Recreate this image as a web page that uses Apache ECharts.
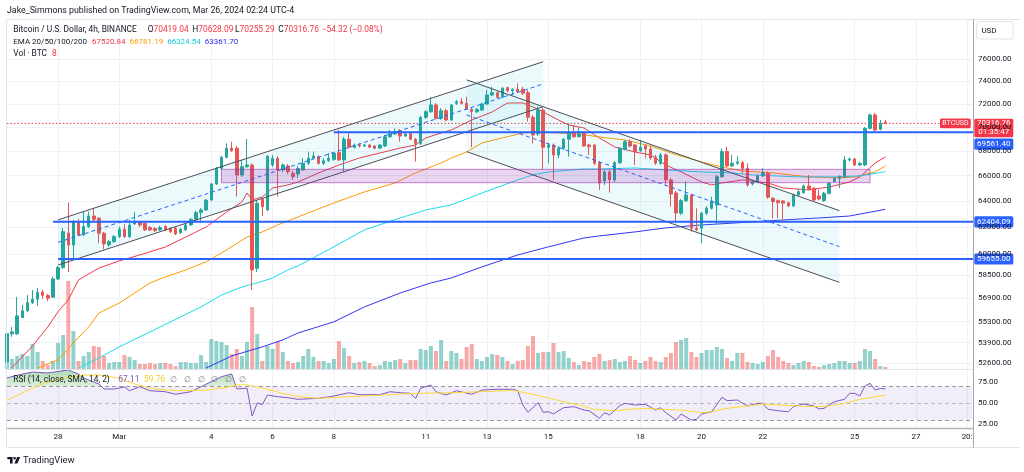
<!DOCTYPE html>
<html>
<head>
<meta charset="utf-8">
<script src="https://cdn.jsdelivr.net/npm/echarts@6/dist/echarts.min.js"></script>
<style>
  html, body { margin: 0; padding: 0; background: #fff; }
  #chart { width: 1024px; height: 472px; }
</style>
</head>
<body>
<div id="chart"></div>
<script>
// 4h slots, Feb 26 08:00 .. Mar 28 (UTC-4); candles fill the first 173
const slotCount = 190;
const tickLabels = [[10, '28'], [22, 'Mar'], [40, '4'], [52, '6'], [64, '8'], [82, '11'], [94, '13'],
  [106, '15'], [124, '18'], [136, '20'], [148, '22'], [166, '25'], [178, '27'], [188, '20:']];
const priceTicks = [76000, 74000, 72000, 70000, 68000, 66000, 64000, 62000, 60000, 58500, 56900, 55300, 53900, 52600];
const rsiTicks = [75, 50, 25];

// [open, close, low, high]
const candles = [
  [52660,54480,52530,54680],[54480,54610,54280,54940],[54480,55680,54410,56980],[55570,56020,55540,56430],
  [56020,56580,55950,57110],[56580,56820,56490,57460],[56820,57300,56360,57600],[57300,57070,56840,57460],
  [57070,56890,56700,57180],[56960,58230,56910,58400],[58230,59040,58160,59160],[59040,61670,58940,61950],
  [61570,60680,58730,63880],[60680,62420,59730,62550],[62420,61420,61350,62630],[61420,62050,61350,63160],
  [62050,62850,61950,63180],[62850,62600,62470,63460],[62680,61550,60810,62780],[61550,60760,60370,61650],
  [60680,60930,60540,61050],[60930,61300,60830,61420],[61300,61850,61200,62050],[61850,61300,61200,62250],
  [61300,62170,61200,62550],[62250,62420,62170,63140],[62370,62170,62020,62470],[62300,61800,61720,62400],
  [61970,61800,61720,62100],[61900,61740,61650,62020],[61800,61970,61720,62100],[62050,61800,61720,62170],
  [61900,61670,61570,61990],[61920,61500,61420,62020],[61600,61850,61500,61950],[61800,62170,61720,62250],
  [62170,62600,62100,62700],[62600,63110,62550,63240],[63110,63310,62320,63470],[63310,64080,63240,64160],
  [64080,65340,64010,65420],[65340,66590,65260,66700],[66590,67490,66460,67600],[67490,68230,67390,68640],
  [68230,68030,67930,68770],[68230,66060,64340,68420],[66060,66720,65900,67270],[66720,66860,66620,69000],
  [66860,58870,57460,66990],[58990,63830,58730,64080],[64140,63570,62850,64240],[63310,67560,63240,67680],
  [66860,67410,66700,67680],[67410,66460,64340,67600],[66460,66860,66300,66990],[66780,66320,66140,66940],
  [66190,65920,65660,66380],[66140,66580,65820,66780],[66460,67000,66380,67430],[67000,67410,66860,67950],
  [67410,67600,67350,67950],[67540,67000,66900,67640],[67000,67210,66860,67430],[67210,67410,67110,67840],
  [67320,67820,67190,67930],[67870,67270,67190,69780],[67270,68980,66320,69170],[68980,68310,68210,69480],
  [68310,68500,68210,68630],[68500,68420,68290,68670],[68420,68500,68340,68590],[68500,68310,68250,68590],
  [68420,68230,68130,68500],[68250,68500,68170,68590],[68420,69190,68340,69340],[69190,69420,69090,69760],
  [69420,69610,69340,69900],[69700,69250,68780,69840],[69250,69420,69170,69590],[69470,68980,68920,69590],
  [68980,68640,67130,69090],[68640,70840,68500,70950],[70840,71320,70700,71470],[71320,71910,71210,72580],
  [71910,70750,70650,72080],[70750,71410,70610,71640],[71410,70610,70520,71560],[70610,71910,70520,71990],
  [72050,72200,71910,72340],[72200,72050,71950,72520],[72050,71530,71470,72640],[71530,71320,68310,71640],
  [71320,71530,71210,71640],[71470,71990,71380,72120],[71990,72780,71910,73220],[72780,72990,72690,73520],
  [72990,72580,72480,73090],[72580,73380,72520,73490],[73430,73160,73030,73540],[73160,73290,72780,73380],
  [73290,73070,72940,73820],[73290,72940,72780,73520],[72990,70840,70470,73220],[70840,69340,68640,71040],
  [69420,71470,69250,71760],[71470,68310,66510,71640],[68310,68500,67000,68670],[68500,67680,65660,68630],
  [67680,68230,67410,68420],[68230,68980,68090,69090],[68980,69530,67540,70330],[69530,69190,69090,70180],
  [69190,69420,69130,69980],[69470,68420,68340,69590],[68500,68360,67680,68590],[68500,67000,66860,68590],
  [67050,65420,64870,67190],[65580,66300,65260,66460],[66300,65660,64660,66460],[65660,67050,65500,67190],
  [67050,68230,66940,68340],[68150,68770,68050,68920],[68770,68420,68290,68960],[68500,67950,66860,68590],
  [68030,68310,67930,68920],[68420,68170,67410,68540],[68170,67430,67270,68420],[67510,67000,66860,67680],
  [67000,67680,66860,67840],[67680,65660,65180,67840],[65660,64550,63570,65820],[64630,63080,62300,64790],
  [63060,64030,62930,64160],[64030,64470,63930,65530],[64470,61920,61670,64550],[61920,61800,61720,63440],
  [61920,63060,60810,63160],[63060,63440,62930,63620],[63440,64010,63350,64340],[63700,65920,62170,66060],
  [65920,67960,65820,68200],[67960,66780,66700,68360],[66780,67000,66700,67680],[67000,67110,66860,67600],
  [67050,66590,66190,67190],[66590,65260,65130,67000],[65340,65530,65220,65660],[65530,65980,65420,66100],
  [65980,66240,65900,66590],[66190,64300,64160,66340],[64220,63950,62680,64320],[64030,63870,62680,64120],
  [64010,63830,62350,64080],[63870,63620,63540,63950],[63620,64470,63540,64590],[64470,64730,64400,64910],
  [64650,65180,64590,65300],[65180,64920,64830,66060],[65000,64080,64010,65100],[64400,64160,64050,64870],
  [64030,64610,63930,64710],[64610,65390,64510,65500],[65530,65790,65460,65900],[65790,65920,65000,66020],
  [65920,67270,65820,67600],[67270,67350,67150,67470],[67350,66860,66780,67430],[66860,66980,66780,67110],
  [66860,69900,66780,70010],[69900,71040,69800,71170],[71040,69760,69620,71210],[69820,70320,69720,70610],
  [70419.04,70316.76,70255.29,70628.09]
];

// volume, BTC
const volumes = [
  40,40,52,60,52,100,68,32,16,32,104,136,352,152,32,52,68,92,88,52,24,28,28,56,48,36,20,20,
  24,20,24,24,20,12,28,28,24,24,56,28,120,112,108,96,
  60,80,52,108,248,140,32,92,80,112,68,32,24,28,
  52,80,48,32,32,24,40,112,84,52,24,28,32,24,12,16,32,28,36,40,24,36,36,80,76,92,72,116,32,
  72,64,40,88,100,40,32,48,60,56,48,32,20,32,36,92,132,64,68,68,104,68,72,44,28,16,32,28,48,60,
  32,36,40,28,32,52,36,24,32,48,32,28,48,64,108,116,124,68,48,64,76,76,88,80,44,32,64,64,28,
  24,20,28,52,76,48,32,24,16,24,32,28,12,8,16,20,24,32,32,24,24,32,80,72,40,12,8
];

// EMA lines, [slot, price]
const ema20 = [[1,52300],[5,53690],[8,54940],[10,55970],[12,56770],[14,58160],[18,59010],[22,59520],[26,59950],
  [31,60530],[35,61270],[39,62020],[43,63160],[46,63930],[47,64630],[48,64080],[50,64320],[52,65020],[55,65260],
  [57,65500],[61,66220],[65,66860],[69,67430],[73,67840],[77,68250],[80,68500],[82,69090],[85,69500],[87,69760],
  [91,70610],[95,71300],[98,72080],[101,72080],[103,71730],[105,71300],[108,70610],[110,70180],[113,69930],
  [116,69090],[119,68340],[123,67920],[126,67680],[129,66860],[132,66300],[134,65900],[136,65500],[138,65260],
  [140,65420],[144,65660],[149,65420],[152,65020],[157,64870],[161,65100],[165,65500],[167,65900],[170,67020],
  [172,67520.84]];
const ema50 = [[6,52270],[10,52790],[13,53890],[16,54940],[18,55880],[22,56560],[25,57250],[28,57950],[31,58370],
  [35,58870],[39,59450],[43,60320],[47,61270],[50,61650],[53,62170],[57,62780],[64,63850],[70,64710],[76,65420],
  [80,66220],[85,67020],[87,67430],[90,67920],[93,68670],[97,69090],[101,69500],[104,69590],[108,69500],
  [112,69420],[116,69170],[121,68920],[126,68420],[130,67840],[136,67100],[140,66700],[144,66380],[150,66220],
  [157,65900],[163,65820],[166,65900],[170,66300],[172,66781.19]];
const ema100 = [[14,52270],[18,52910],[22,53630],[26,54280],[30,54940],[34,55610],[38,56290],[42,57110],
  [46,57670],[49,57950],[52,58300],[55,58870],[57,59160],[64,60540],[70,61800],[77,62700],[82,63310],[87,63700],
  [93,64630],[100,65660],[103,66060],[106,66300],[113,66540],[116,66540],[123,66620],[129,66460],[136,66300],
  [142,66220],[146,66060],[155,65900],[162,65900],[167,65980],[172,66324.54]];
const ema200 = [[39,52270],[44,53040],[50,53630],[54,54080],[57,54540],[64,55280],[70,56290],[77,57250],
  [83,57950],[87,58300],[93,59090],[100,59950],[106,60540],[113,61200],[116,61350],[123,61650],[129,61950],
  [136,62170],[146,62400],[152,62550],[159,62700],[165,62850],[172,63361.70]];

// RSI(14) and its SMA(14), [slot, value]
const rsiLine = [[0,80],[3,84.7],[5,87],[8,85.9],[12,89.4],[14,84.7],[15,80],[18,72.8],[19,66.9],[21,66.9],
  [23,69.3],[24,64.9],[26,69.6],[28,64.9],[31,63.7],[33,60.7],[36,63.7],[38,69.6],[40,75.6],[42,81.5],[44,84.7],
  [45,67],[47,67.8],[48,35],[49,50.4],[50,48.5],[51,59.8],[53,57.8],[55,56.6],[57,54.7],[61,55.9],[64,58.6],
  [67,62.5],[69,60.2],[71,60.2],[73,60.2],[75,63.7],[77,62.5],[79,61.8],[80,55.9],[81,67.8],[83,71.7],[84,63.7],
  [86,59.8],[88,64.9],[91,60.7],[93,65.7],[96,66.6],[99,66.6],[100,64.9],[101,48],[102,39.3],[104,50.7],
  [105,39.3],[106,40],[107,37.3],[109,44.8],[111,46],[113,42],[114,41.2],[116,32.2],[117,38.9],[118,36.2],
  [120,47.2],[121,50],[123,48],[125,48.8],[127,42.1],[128,44.8],[129,38.9],[131,30.2],[132,37.3],[134,30.2],
  [135,31],[136,37.3],[138,40],[140,57.1],[141,53.1],[143,53.9],[145,46.8],[147,50],[148,50],[149,42.9],
  [151,41.2],[153,40],[154,46],[156,49.2],[158,46.8],[159,43.3],[160,44.1],[162,51.9],[164,54.7],[165,61.8],
  [166,61.8],[167,58.6],[168,70.5],[169,73.7],[170,65.7],[171,67.5],[172,67.11]];
const rsiSma = [[0,53.9],[5,67.8],[8,75.6],[12,80.8],[15,83.5],[18,83.5],[22,79.6],[25,72.8],[28,67.8],
  [31,65.7],[35,64.9],[39,65.7],[43,68.9],[46,72.8],[48,70.5],[51,66.6],[54,61.8],[57,57.8],[61,55.9],[67,57.8],
  [74,59.8],[80,61.8],[87,62.5],[93,63.7],[99,65.4],[102,61.8],[105,57.8],[109,51.9],[112,48],[115,42.9],
  [119,41.2],[122,42.9],[125,44.1],[128,42.9],[132,42.1],[136,38.9],[138,40],[141,44.1],[145,46.8],[148,49.2],
  [151,48],[154,47.2],[158,46],[161,46.8],[164,50],[167,54.7],[172,59.76]];

// drawings: [fromSlot, toSlot, upper0, upper1, lower0, lower1, mid0, mid1]
const channels = [
  [10, 104.6, 62554, 75780, 59220, 71757, 60870, 73760],
  [89.5, 163, 74130, 63260, 67950, 57990, 71040, 60560]
];
const zone = [[41.6, 168.9, 66510, 65440]];
const levels = [[64.4, 69561.40], [9.1, 62404.09], [10.06, 59655.00]];
const lastPrice = 70316.76;

const FONT = 'Roboto, "Noto Sans", sans-serif';
const ink = '#131722';
const red = '#f23645';
const up = '#26a69a', down = '#ef5350';
const slots = Array.from({ length: slotCount }, (_, i) => i);
const tickAt = new Map(tickLabels);

function xAxisFor(gridIndex, withLabels) {
  return {
    type: 'category', gridIndex, data: slots, boundaryGap: false,
    axisLine: { show: false }, axisTick: { show: false },
    axisLabel: withLabels
      ? { show: true, interval: (i) => tickAt.has(i), formatter: (v, i) => tickAt.get(i) || '', color: ink, fontSize: 8, margin: 5, fontFamily: FONT }
      : { show: false },
    splitLine: { show: gridIndex !== 1, interval: (i) => tickAt.has(i), lineStyle: { color: '#eef1f6', width: 1 } }
  };
}

const emaLine = (name, data, color) => ({
  name, type: 'line', xAxisIndex: 0, yAxisIndex: 0, data, showSymbol: false, silent: true, z: 2,
  lineStyle: { color, width: 1 }
});

const chart = echarts.init(document.getElementById('chart'));

chart.setOption({
  animation: false,
  textStyle: { fontFamily: FONT },
  grid: [
    { left: 7, right: 51.8, top: 20, height: 349, outerBoundsMode: 'none' },
    { left: 7, right: 51.8, top: 20, height: 349, outerBoundsMode: 'none' },
    { left: 7, right: 51.8, top: 369.5, height: 58.5, outerBoundsMode: 'none' }
  ],
  xAxis: [xAxisFor(0, false), xAxisFor(1, false), xAxisFor(2, true)],
  yAxis: [
    { type: 'log', logBase: 10, gridIndex: 0, min: 52207, max: 79712, show: false },
    { type: 'value', gridIndex: 1, min: 0, max: 1396, show: false },
    { type: 'value', gridIndex: 2, min: 20.77, max: 90, show: false }
  ],
  series: [
    {
      name: 'BTCUSD', type: 'candlestick', xAxisIndex: 0, yAxisIndex: 0, data: candles, z: 3,
      barWidth: 3,
      itemStyle: { color: up, color0: down, borderColor: up, borderColor0: down, borderWidth: 1 }
    },
    {
      name: 'Vol', type: 'bar', xAxisIndex: 1, yAxisIndex: 1, barWidth: 4, z: 1, silent: true,
      data: volumes.map((v, i) => ({
        value: v,
        itemStyle: { color: candles[i] && candles[i][1] >= candles[i][0] ? 'rgba(38,166,154,0.5)' : 'rgba(239,83,80,0.5)' }
      }))
    },
    emaLine('EMA 20', ema20, '#f23645'),
    emaLine('EMA 50', ema50, '#ff9800'),
    emaLine('EMA 100', ema100, '#18dcec'),
    emaLine('EMA 200', ema200, '#3434f2'),
    {
      type: 'custom', xAxisIndex: 0, yAxisIndex: 0, data: channels, z: 4, silent: true,
      encode: { x: [0, 1], y: [2, 3, 4, 5, 6, 7] },
      renderItem: (params, api) => {
        const v = (k) => api.value(k);
        const a = api.coord([v(0), v(2)]), b = api.coord([v(1), v(3)]);
        const c = api.coord([v(1), v(5)]), d = api.coord([v(0), v(4)]);
        const m0 = api.coord([v(0), v(6)]), m1 = api.coord([v(1), v(7)]);
        return {
          type: 'group', children: [
            { type: 'polygon', shape: { points: [a, b, c, d] }, style: { fill: 'rgba(0,188,212,0.07)' } },
            { type: 'line', shape: { x1: a[0], y1: a[1], x2: b[0], y2: b[1] }, style: { stroke: '#4a4d57', lineWidth: 1 } },
            { type: 'line', shape: { x1: d[0], y1: d[1], x2: c[0], y2: c[1] }, style: { stroke: '#4a4d57', lineWidth: 1 } },
            { type: 'line', shape: { x1: m0[0], y1: m0[1], x2: m1[0], y2: m1[1] }, style: { stroke: '#2962ff', lineWidth: 1, lineDash: [4, 3] } }
          ]
        };
      }
    },
    {
      type: 'custom', xAxisIndex: 0, yAxisIndex: 0, data: zone, z: 4, silent: true,
      encode: { x: [0, 1], y: [2, 3] },
      renderItem: (params, api) => {
        const p0 = api.coord([api.value(0), api.value(2)]);
        const p1 = api.coord([api.value(1), api.value(3)]);
        return {
          type: 'rect', shape: { x: p0[0], y: p0[1], width: p1[0] - p0[0], height: p1[1] - p0[1] },
          style: { fill: 'rgba(156,39,176,0.2)', stroke: 'rgba(156,39,176,0.55)', lineWidth: 1 }
        };
      }
    },
    {
      type: 'custom', xAxisIndex: 0, yAxisIndex: 0, data: levels, z: 5, silent: true,
      encode: { x: 0, y: 1 },
      renderItem: (params, api) => {
        const s = api.coord([api.value(0), api.value(1)]);
        const right = params.coordSys.x + params.coordSys.width + 1.5;
        return { type: 'line', shape: { x1: s[0], y1: s[1], x2: right, y2: s[1] }, style: { stroke: '#2962ff', lineWidth: 2 } };
      }
    },
    {
      // last-price line across the whole pane
      type: 'custom', xAxisIndex: 0, yAxisIndex: 0, data: [[0, lastPrice]], z: 2, silent: true,
      encode: { x: 0, y: 1 },
      renderItem: (params, api) => {
        const s = api.coord([api.value(0), api.value(1)]);
        const x2 = params.coordSys.x + params.coordSys.width;
        return { type: 'line', shape: { x1: params.coordSys.x, y1: s[1], x2, y2: s[1] }, style: { stroke: '#f23645', lineWidth: 1, lineDash: [1.5, 2] } };
      }
    },
    {
      type: 'line', xAxisIndex: 0, yAxisIndex: 0, data: [], z: 0, silent: true,
      markLine: {
        silent: true, z: 0, symbol: ['none', 'none'], label: { show: false },
        lineStyle: { color: '#eef1f6', width: 1, type: 'solid' },
        data: priceTicks.map((v) => ({ yAxis: v }))
      }
    },
    {
      id: 'rsiFill', type: 'line', xAxisIndex: 2, yAxisIndex: 2, data: rsiLine, showSymbol: false, silent: true, z: 2,
      lineStyle: { width: 0, opacity: 0 },
      areaStyle: { origin: 'start', opacity: 1, color: 'rgba(0,0,0,0)' }
    },
    {
      name: 'RSI', type: 'line', xAxisIndex: 2, yAxisIndex: 2, data: rsiLine, showSymbol: false, silent: true, z: 3,
      lineStyle: { color: '#7e57c2', width: 1 },
      markArea: { silent: true, z: 0, itemStyle: { color: 'rgba(126,87,194,0.1)' }, data: [[{ yAxis: 30 }, { yAxis: 70 }]] },
      markLine: {
        silent: true, z: 1, symbol: ['none', 'none'], label: { show: false },
        lineStyle: { color: '#9598a1', type: [4, 3], width: 1 },
        data: [{ yAxis: 70 }, { yAxis: 50, lineStyle: { color: 'rgba(149,152,161,0.6)' } }, { yAxis: 30 }]
      }
    },
    {
      name: 'RSI SMA', type: 'line', xAxisIndex: 2, yAxisIndex: 2, data: rsiSma, showSymbol: false, silent: true, z: 3,
      lineStyle: { color: '#fdd835', width: 1 }
    }
  ]
});

// ---- overlay: legends, price scale labels, frame ----
const py = (v) => chart.convertToPixel({ yAxisIndex: 0 }, v);
const ry = (v) => chart.convertToPixel({ yAxisIndex: 2 }, v);

// overbought fill: green only above the 70 band
const yTop = ry(90), yBot = ry(20.77), y70 = ry(70);
const f70 = (y70 - yTop) / (yBot - yTop);
const green = 'rgba(76,175,80,0.45)', clear = 'rgba(76,175,80,0)';
const obFill = new echarts.graphic.LinearGradient(0, yTop, 0, yBot, [
  { offset: 0, color: green }, { offset: f70, color: 'rgba(76,175,80,0.2)' },
  { offset: f70, color: clear }, { offset: 1, color: clear }
], true);

const measureCtx = document.createElement('canvas').getContext('2d');
const fontOf = (size) => `${size}px ${FONT}`;
const textW = (t, size) => { measureCtx.font = fontOf(size); return measureCtx.measureText(t).width; };

const els = [];
const text = (x, y, t, color, size, align) => els.push({
  type: 'text', x, y, z: 20, silent: true,
  style: { text: t, fill: color || ink, font: fontOf(size || 8), align: align || 'left', verticalAlign: 'middle' }
});
// parts laid out left to right; a number in the list is an extra gap in px
const run = (x, y, parts, size) => {
  parts.forEach((p) => {
    if (typeof p === 'number') { x += p; return; }
    text(x, y, p[0], p[1], size); x += textW(p[0], size);
  });
};
const rect = (x, y, w, h, fill, stroke, z) => els.push({
  type: 'rect', z: z || 15, silent: true, shape: { x, y, width: w, height: h, r: 1.5 },
  style: { fill, stroke: stroke || null, lineWidth: 1 }
});
const hline = (x1, x2, y, color, w) => els.push({ type: 'line', z: 12, silent: true, shape: { x1, y1: y, x2, y2: y }, style: { stroke: color, lineWidth: w || 1 } });
const vline = (x, y1, y2, color, w) => els.push({ type: 'line', z: 12, silent: true, shape: { x1: x, y1, x2: x, y2 }, style: { stroke: color, lineWidth: w || 1 } });

const LEG = 8.4;
text(7, 10.5, 'Jake_Simmons published on TradingView.com, Mar 26, 2024 02:24 UTC-4', ink, 8.8);
run(13.3, 30, [['Bitcoin / U.S. Dollar, 4h, BINANCE', ink]], LEG);
run(147.7, 30, [['O', ink], ['70419.04', red]], LEG);
run(192.3, 30, [['H', ink], ['70628.09', red]], LEG);
run(235, 30, [['L', ink], ['70255.29', red]], LEG);
run(278.3, 30, [['C', ink], ['70316.76', red]], LEG);
run(321.7, 30, [['\u221254.32 (\u22120.08%)', red]], LEG);
run(13.3, 42, [['EMA 20/50/100/200', ink], 5, ['67520.84', red], 4, ['66781.19', '#ff9800'], 4,
  ['66324.54', '#12c8dc'], 4, ['63361.70', '#2a2aee']], 8);
run(13.3, 53.5, [['Vol \u00b7 BTC', ink], 5, ['8', red]], LEG);
run(13.3, 380, [['RSI (14, close, SMA, 14, 2)', ink]], LEG);
run(118.3, 380, [['67.11', '#7e57c2']], LEG);
run(144, 380, [['59.76', '#f2cf2c']], LEG);
[173, 187, 201, 214, 228, 242].forEach((x) => text(x, 380, '\u2205', '#787b86', LEG, 'center'));

// frame
hline(7, 1020, 19.5, '#e0e3eb');
vline(6.5, 19.5, 447, '#e0e3eb');
hline(7, 973, 369.5, '#e0e3eb');
hline(7, 973, 428.5, '#b2b5be', 1.5);
hline(7, 1020, 447.5, '#e0e3eb');
vline(973.5, 19.5, 447.5, '#a3a6af');

// price scale
priceTicks.forEach((v) => text(978, py(v), v.toFixed(2), ink, 8));
rsiTicks.forEach((v) => text(978, ry(v), v.toFixed(2), ink, 8));

rect(976.7, 21.7, 36.3, 17.3, '#fff', '#e0e3eb');
text(989, 30.5, 'USD', ink, 8, 'center');

const levelShift = [11.7, 0, 0];
levels.forEach(([, price], k) => {
  const y = py(price) + levelShift[k];
  rect(974.3, y - 5.6, 39, 11.2, '#2962ff', null, 16);
  text(993.8, y, price.toFixed(2), '#fff', 8, 'center');
});
const yp = py(lastPrice);
rect(974.3, yp - 4.6, 39, 18.4, red, null, 17);
text(993.8, yp, lastPrice.toFixed(2), '#fff', 8, 'center');
text(993.8, yp + 9, '01:35:47', '#fff', 8, 'center');
rect(940, yp - 4.9, 30.7, 9.8, red, null, 17);
text(955.4, yp, 'BTCUSD', '#fff', 7, 'center');

// footer logo
els.push({ type: 'polygon', z: 20, silent: true, shape: { points: [[7.3, 457], [12.6, 457], [12.6, 463.4], [10, 463.4], [10, 459.3], [7.3, 459.3]] }, style: { fill: ink } });
els.push({ type: 'circle', z: 20, silent: true, shape: { cx: 14.6, cy: 458.3, r: 1.3 }, style: { fill: ink } });
els.push({ type: 'polygon', z: 20, silent: true, shape: { points: [[17.2, 457], [20.2, 457], [17.4, 463.4], [14.4, 463.4]] }, style: { fill: ink } });
text(23, 460.3, 'TradingView', ink, 9.4);

chart.setOption({ graphic: els, series: [{ id: 'rsiFill', areaStyle: { color: obFill } }] });
</script>
</body>
</html>
